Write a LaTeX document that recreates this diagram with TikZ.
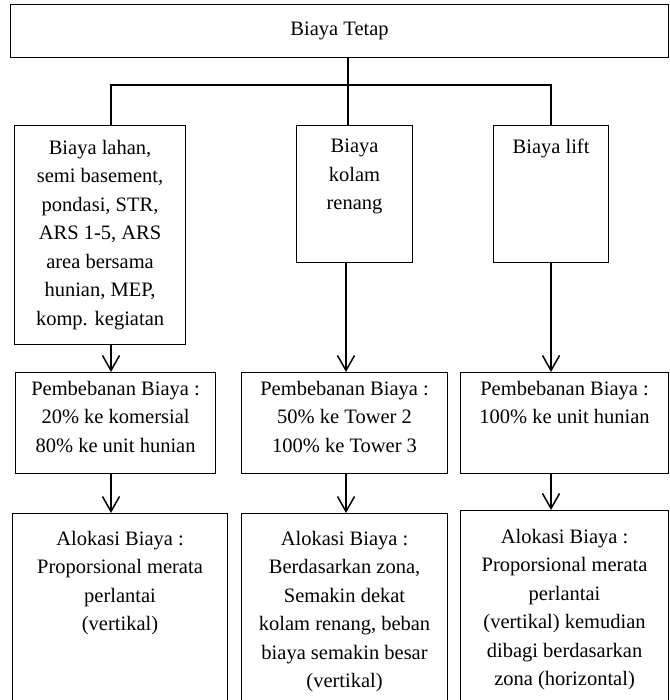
\documentclass[tikz,border=0pt]{standalone}
\usepackage{fontspec}
\setmainfont{Liberation Serif}
\usepackage{tikz}
\usetikzlibrary{arrows.meta, positioning}

\begin{document}
\begin{tikzpicture}[
  x=1pt, y=-1pt,
  every node/.style={font=\fontsize{20.5}{28.5}\selectfont},
  box/.style={draw, line width=1.1pt, anchor=north west, inner sep=0pt},
  txt/.style={anchor=north, align=center, inner sep=0pt},
  line/.style={line width=1.1pt},
  arr/.style={-{Straight Barb[length=15pt, width=17pt, line width=1.5pt]}, line width=1.6pt},
]
\useasboundingbox (0,0) rectangle (669,700);
\clip (0,0) rectangle (669,700);

% Top box
\node[box, minimum width=658, minimum height=53] (tetap) at (10,4) {Biaya Tetap};

% Cost groups
\node[box, minimum width=171, minimum height=219,
      label={[txt, yshift=-15pt]north:{Biaya lahan,\\semi basement,\\pondasi, STR,\\ARS 1-5, ARS\\area bersama\\hunian, MEP,\\komp. kegiatan}}]
      (lahan) at (14,125) {};
\node[box, minimum width=116, minimum height=137,
      label={[txt, yshift=-14pt]north:{Biaya\\kolam\\renang}}]
      (kolam) at (296,125) {};
\node[box, minimum width=115, minimum height=137,
      label={[txt, yshift=-14pt]north:{Biaya lift}}]
      (lift) at (493,125) {};

% Cost loading
\node[box, minimum width=200, minimum height=101,
      label={[txt, yshift=-9pt]north:{Pembebanan Biaya :\\20\% ke komersial\\80\% ke unit hunian}}]
      (bebanA) at (15,372) {};
\node[box, minimum width=206, minimum height=101,
      label={[txt, yshift=-9pt]north:{Pembebanan Biaya :\\50\% ke Tower 2\\100\% ke Tower 3}}]
      (bebanB) at (241,372) {};
\node[box, minimum width=208, minimum height=101,
      label={[txt, yshift=-9pt]north:{Pembebanan Biaya :\\100\% ke unit hunian}}]
      (bebanC) at (460,372) {};

% Cost allocation
\node[box, minimum width=215, minimum height=200,
      label={[txt, yshift=-18pt]north:{Alokasi Biaya :\\Proporsional merata\\perlantai\\(vertikal)}}]
      (alokA) at (12,513) {};
\node[box, minimum width=206, minimum height=200,
      label={[txt, yshift=-18pt]north:{Alokasi Biaya :\\Berdasarkan zona,\\Semakin dekat\\kolam renang, beban\\biaya semakin besar\\(vertikal)}}]
      (alokB) at (241,513) {};
\node[box, minimum width=208, minimum height=200,
      label={[txt, yshift=-19pt]north:{Alokasi Biaya :\\Proporsional merata\\perlantai\\(vertikal) kemudian\\dibagi berdasarkan\\zona (horizontal)}}]
      (alokC) at (460,510) {};

% Connectors
\coordinate (c1) at (111,0);
\coordinate (c2) at (346,0);
\coordinate (c3) at (551,0);
\coordinate (split) at (348,85);
\draw[line] (tetap.south -| split) -- (split);
\draw[line] (lahan.north -| c1) |- (split) -| (lift.north -| c3);
\draw[line] (split) -- (kolam.north -| split);

\draw[arr] (lahan.south -| c1) -- (bebanA.north -| c1);
\draw[arr] (kolam.south -| c2) -- (bebanB.north -| c2);
\draw[arr] (lift.south -| c3) -- (bebanC.north -| c3);
\draw[arr] (bebanA.south -| c1) -- (alokA.north -| c1);
\draw[arr] (bebanB.south -| c2) -- (alokB.north -| c2);
\draw[arr] (bebanC.south -| c3) -- (alokC.north -| c3);
\end{tikzpicture}
\end{document}
